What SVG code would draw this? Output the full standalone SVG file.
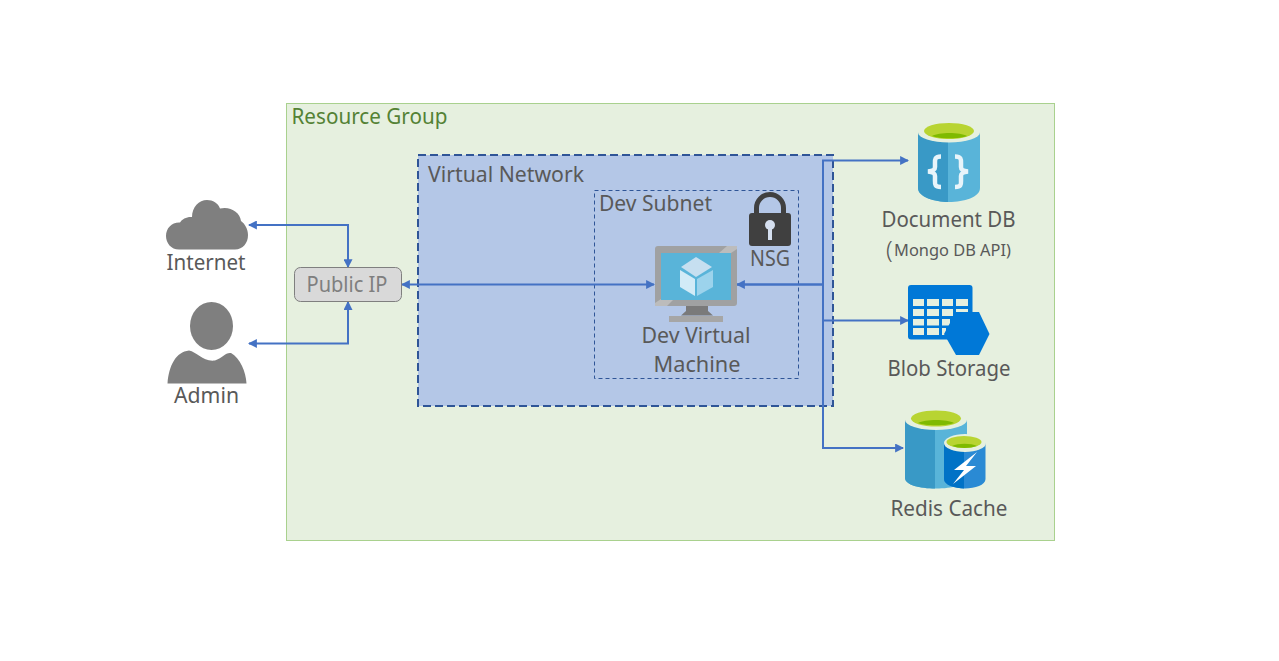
<svg xmlns="http://www.w3.org/2000/svg" width="1279" height="661" viewBox="0 0 1279 661">
<style>
text{font-family:"Noto Sans","Open Sans","Liberation Sans",sans-serif;fill:#595959;font-size:21px}
.c{text-anchor:middle}
.line{fill:none;stroke:#4472c4;stroke-width:2}
.head{fill:#4472c4}
.gr{fill:#7f7f7f}
.cell{fill:#e6f0df}
.brace{fill:none;stroke:#e8f4fa;stroke-width:4.500}
</style>
<defs>
<marker id="a" viewBox="0 0 8 8" refX="7" refY="4" markerWidth="9" markerHeight="9" markerUnits="userSpaceOnUse" orient="auto-start-reverse"><path class="head" d="M0 0L8 4L0 8Z"/></marker>
</defs>
<rect width="1279" height="661" fill="#fff"/>
<g id="resource-group"><rect x="286.500" y="103.500" width="768" height="437" fill="#e6f0df" stroke="#a9d18e"/><text x="291.500" y="124" style="fill:#548235" textLength="156" lengthAdjust="spacingAndGlyphs">Resource Group</text></g>
<g id="virtual-network"><rect x="418" y="155" width="415" height="251" fill="#b4c7e7" stroke="#2f5597" stroke-width="2" stroke-dasharray="8 4"/><text x="428" y="182" textLength="156" lengthAdjust="spacingAndGlyphs">Virtual Network</text></g>
<g id="dev-subnet"><rect x="594.500" y="190.500" width="204" height="188" fill="none" stroke="#2f5597" stroke-dasharray="4 3"/><text x="599" y="211" textLength="113" lengthAdjust="spacingAndGlyphs">Dev Subnet</text></g>
<g id="connectors">
<path class="line" d="M249 225H348V267" marker-start="url(#a)" marker-end="url(#a)"/>
<path class="line" d="M249 343.500H348V302" marker-start="url(#a)" marker-end="url(#a)"/>
<path class="line" d="M402 284.500H654" marker-start="url(#a)" marker-end="url(#a)"/>
<path class="line" style="stroke-width:2.500" d="M737 284.500H823" marker-start="url(#a)"/>
<path class="line" d="M908 160.500H823V448H903" marker-start="url(#a)" marker-end="url(#a)"/>
<path class="line" d="M823 320.500H908" marker-end="url(#a)"/>
</g>
<g id="internet"><path class="gr" d="M179 249.500C171 249.500 166 243 166 236C166 228 172 222 180 222.500C182 219 187 216.500 192 217C192 207 199 200 207 200C213 200 218 203 220 208.500C230 206 240 212 241 221C245 224 248 229 248 235C248 243 243 249.500 235 249.500Z"/><text class="c" x="206" y="270" textLength="79" lengthAdjust="spacingAndGlyphs">Internet</text></g>
<g id="admin"><ellipse class="gr" cx="211.500" cy="326" rx="21.500" ry="24"/><path class="gr" d="M167.500 383.500C169 365 176 352 189 350.500C197 352 203 362 215 360.500C222 358 226 352 231 353C240 358 246 372 246.500 383.500Z"/><text class="c" x="206.500" y="403" textLength="65" lengthAdjust="spacingAndGlyphs">Admin</text></g>
<g id="public-ip"><rect x="294.500" y="267.500" width="107" height="34" rx="6" fill="#d9d9d9" stroke="#7f7f7f"/><text class="c" x="347" y="292" style="fill:#7f7f7f" textLength="81" lengthAdjust="spacingAndGlyphs">Public IP</text></g>
<g id="nsg"><path d="M756.500 215V208A13.500 13.500 0 0 1 783.500 208V215" fill="none" stroke="#404040" stroke-width="5"/><rect x="749" y="213" width="42" height="33" rx="3" fill="#404040"/><circle cx="770" cy="225" r="5" fill="#d5dfef"/><rect x="768" y="226" width="4" height="14" fill="#d5dfef"/><text class="c" x="770" y="266" textLength="40" lengthAdjust="spacingAndGlyphs">NSG</text></g>
<g id="dev-vm"><rect x="655" y="246" width="82" height="60" rx="3" fill="#a0a1a2"/><path d="M737 249V246H727L719 253H731Z" fill="#bcbcbc"/><path d="M655 303V306H667L674 299H661Z" fill="#bcbcbc"/><rect x="661" y="253" width="70" height="47" fill="#59b4d9"/><path d="M686 306H708V311L713 315.500H681L686 311Z" fill="#7a7a7a"/><path d="M669 316H723V322H669Z" fill="#a6a6a6"/><path d="M681 267L696 257L712 267L696 277Z" fill="#c6dff0"/><path d="M680 270L695 279V296L680 287Z" fill="#d2ebf7"/><path d="M697 279L713 270V287L697 296Z" fill="#9cd3ec"/><text class="c" x="696" y="343" textLength="109" lengthAdjust="spacingAndGlyphs">Dev Virtual</text><text class="c" x="697" y="372" textLength="87" lengthAdjust="spacingAndGlyphs">Machine</text></g>
<g id="document-db"><path d="M918 132V188C918 197 935 202 949 202C964 202 980 197 980 188V132Z" fill="#59b4d9"/><path d="M918 132V188C918 197 935 202 948 202V132Z" fill="#3999c6"/><ellipse cx="949" cy="132.500" rx="31" ry="10" fill="#e6f0df"/><ellipse cx="949" cy="131" rx="25" ry="8" fill="#b8d432"/><path d="M932 136C939 132 960 132 967 136C960 139 939 139 932 136Z" fill="#7fba00"/><path class="brace" d="M941 156.500C934 156.500 935 160 935 165V167C935 170 933 171 928 171.500C933 172 935 173 935 176V179C935 184 934 187 941 187"/><path class="brace" d="M955 156.500C962 156.500 961 160 961 165V167C961 170 963 171 968 171.500C963 172 961 173 961 176V179C961 184 962 187 955 187"/><text class="c" x="948.500" y="227" textLength="134" lengthAdjust="spacingAndGlyphs">Document DB</text><text x="886" y="258" style="font-size:24px;font-weight:300">(</text><text x="894" y="256" style="font-size:16px" textLength="117" lengthAdjust="spacingAndGlyphs">Mongo DB API)</text></g>
<g id="blob-storage"><rect x="908" y="285" width="64.500" height="54.500" rx="3" fill="#0078d7"/><rect class="cell" x="913" y="299" width="11" height="7"/><rect class="cell" x="927" y="299" width="12" height="7"/><rect class="cell" x="942" y="299" width="11" height="7"/><rect class="cell" x="956" y="299" width="12" height="7"/><rect class="cell" x="913" y="309" width="11" height="7"/><rect class="cell" x="927" y="309" width="12" height="7"/><rect class="cell" x="942" y="309" width="11" height="7"/><rect class="cell" x="956" y="309" width="12" height="7"/><rect class="cell" x="913" y="319" width="11" height="6.500"/><rect class="cell" x="927" y="319" width="12" height="6.500"/><rect class="cell" x="942" y="319" width="8" height="6.500"/><rect class="cell" x="913" y="328" width="11" height="7"/><rect class="cell" x="927" y="328" width="12" height="7"/><rect class="cell" x="942" y="328" width="4" height="7"/><path d="M956 312H979L989.500 334L979 355H956L944 334Z" fill="#0078d7"/><text class="c" x="949" y="376" textLength="123" lengthAdjust="spacingAndGlyphs">Blob Storage</text></g>
<g id="redis-cache"><path d="M905 420V478C905 485 920 488.500 936 488.500C952 488.500 967 485 967 478V420Z" fill="#59b4d9"/><path d="M905 420V478C905 485 920 488.500 935 488.500V420Z" fill="#3999c6"/><ellipse cx="936" cy="420" rx="31" ry="10" fill="#e6f0df"/><ellipse cx="936" cy="418.500" rx="25" ry="8" fill="#b8d432"/><path d="M918 423C925 419 947 419 954 423C947 426 925 426 918 423Z" fill="#7fba00"/><path d="M944 443V479C944 485 955 488.500 965 488.500C975 488.500 985.500 485 985.500 479V443Z" fill="#2a8ad4"/><path d="M944 443V479C944 485 955 488.500 964 488.500V443Z" fill="#0072c6"/><ellipse cx="965" cy="443" rx="21" ry="9" fill="#e6f0df"/><ellipse cx="964" cy="442" rx="17.500" ry="6" fill="#b8d432"/><path d="M952 446C958 443 971 443 977 446C971 448.500 958 448.500 952 446Z" fill="#7fba00"/><path d="M977 452L954 470H964L953 484L976 466H966Z" fill="#fff"/><text class="c" x="949" y="516" textLength="117" lengthAdjust="spacingAndGlyphs">Redis Cache</text></g>
</svg>
